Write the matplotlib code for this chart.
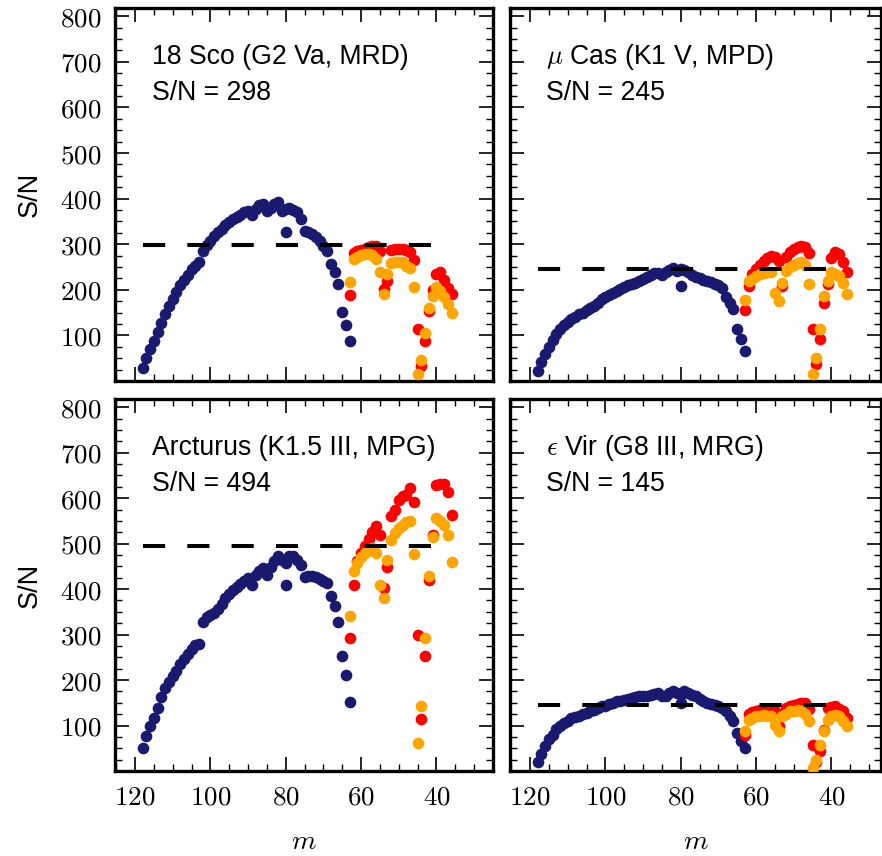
import numpy as np
import matplotlib
matplotlib.use("Agg")
import matplotlib.pyplot as plt
from matplotlib.ticker import MultipleLocator, FuncFormatter

plt.rcParams['font.family'] = ['Liberation Sans', 'DejaVu Sans']
plt.rcParams['mathtext.fontset'] = 'cm'

# echelle orders
m_blue = np.arange(118, 62, -1)     # 118 .. 63
m_ro = np.arange(63, 35, -1)        # 63 .. 36
m_out = [80]

stars = ["18 Sco (G2 Va, MRD)", r"$\mu$ Cas (K1 V, MPD)",
         "Arcturus (K1.5 III, MPG)", r"$\epsilon$ Vir (G8 III, MRG)"]
snr_target = [298, 245, 494, 145]

blue_sco = [29, 50, 70, 88, 107, 128, 148, 165, 180, 195, 210, 222, 232, 245,
            252, 260, 285, 298, 308, 317, 326, 333, 342, 349, 355, 360, 365, 370,
            372, 365, 378, 385, 388, 372, 380, 388, 393, 372, 378, 380, 375, 370,
            356, 330, 326, 322, 316, 306, 295, 285, 257, 240, 212, 152, 122, 88]
red_sco = [189, 280, 284, 287, 290, 293, 296, 297, 284, 202, 220, 288, 289, 290,
           290, 287, 283, 266, 114, 33, 88, 154, 200, 235, 239, 222, 205, 190]
orange_sco = [217, 268, 273, 277, 279, 279, 276, 268, 240, 191, 235, 258, 261, 261,
              260, 253, 247, 207, 15, 45, 106, 160, 187, 206, 198, 185, 168, 150]
out_sco = [327]

blue_cas = [22, 42, 60, 75, 90, 103, 113, 122, 130, 135, 140, 146, 150, 155,
            160, 164, 170, 180, 184, 189, 193, 198, 202, 206, 210, 213, 216, 220,
            224, 227, 232, 236, 236, 232, 238, 244, 248, 242, 246, 244, 240, 232,
            228, 225, 222, 220, 218, 213, 210, 205, 185, 172, 158, 114, 92, 66]
red_cas = [156, 209, 235, 245, 255, 264, 270, 275, 272, 264, 209, 272, 283, 290,
           294, 295, 294, 280, 114, 37, 92, 172, 213, 270, 283, 279, 262, 240]
orange_cas = [178, 220, 224, 230, 235, 237, 238, 238, 194, 176, 216, 242, 250, 254,
              259, 261, 255, 213, 15, 51, 114, 187, 220, 238, 235, 231, 216, 191]
out_cas = [209]

blue_arc = [50, 78, 100, 116, 138, 162, 182, 196, 208, 220, 235, 247, 258, 268,
            276, 280, 328, 338, 344, 348, 356, 367, 380, 390, 398, 405, 412, 418,
            424, 410, 430, 440, 446, 432, 448, 462, 472, 465, 458, 473, 472, 465,
            454, 427, 428, 428, 426, 422, 418, 414, 384, 362, 327, 252, 211, 151]
red_arc = [292, 410, 462, 480, 495, 510, 525, 538, 518, 402, 449, 560, 575, 595,
           605, 608, 623, 591, 300, 114, 252, 421, 520, 628, 632, 630, 613, 564]
orange_arc = [340, 439, 457, 470, 480, 487, 490, 479, 410, 380, 465, 509, 523, 535,
              542, 547, 549, 478, 62, 143, 292, 428, 515, 557, 549, 540, 518, 459]
out_arc = [410]

blue_vir = [20, 38, 55, 70, 80, 92, 100, 106, 111, 116, 119, 122, 125, 128,
            131, 134, 139, 142, 144, 148, 150, 153, 155, 157, 159, 160, 162, 164,
            165, 166, 168, 170, 171, 166, 164, 172, 177, 172, 170, 175, 172, 168,
            164, 158, 153, 150, 148, 146, 143, 139, 133, 122, 110, 83, 66, 50]
red_vir = [80, 125, 130, 133, 134, 134, 134, 134, 133, 100, 125, 138, 142, 146,
           148, 149, 149, 136, 57, 20, 43, 90, 138, 140, 142, 136, 131, 116]
orange_vir = [87, 112, 117, 121, 122, 123, 122, 120, 101, 87, 120, 126, 131, 133,
              134, 132, 125, 109, 6, 24, 57, 87, 112, 120, 123, 120, 110, 98]
out_vir = [149]

blues = [blue_sco, blue_cas, blue_arc, blue_vir]
reds = [red_sco, red_cas, red_arc, red_vir]
oranges = [orange_sco, orange_cas, orange_arc, orange_vir]
outs = [out_sco, out_cas, out_arc, out_vir]

fig = plt.figure(figsize=(8.82, 8.56), dpi=100)
W, H = 882, 856
boxes = [(115, 8, 378, 373), (510, 8, 371, 373),
         (115, 399, 378, 372), (510, 399, 371, 372)]
px_per_m = 378 / 100.3

ms = 8.4
for i, (x0, y0, w, h) in enumerate(boxes):
    ax = fig.add_axes([x0 / W, 1 - (y0 + h) / H, w / W, h / H])
    ax.plot(m_blue, blues[i], 'o', color='#191970', ms=ms, mew=0, zorder=2)
    ax.plot(m_out, outs[i], 'o', color='#191970', ms=ms, mew=0, zorder=2)
    ax.plot(m_ro, reds[i], 'o', color='#ff0000', ms=ms, mew=0, zorder=3)
    ax.plot(m_ro, oranges[i], 'o', color='#ffa500', ms=ms, mew=0, zorder=4)
    ax.hlines(snr_target[i], m_blue.max(), m_ro.min(), colors='k', lw=2.9,
              linestyles=(0, (5.5, 5.5)), zorder=5)

    ax.set_xlim(125.3, 125.3 - w / px_per_m)
    ax.set_ylim(0, 818)
    ax.set_xticks([120, 100, 80, 60, 40])
    ax.set_yticks(np.arange(100, 900, 100))
    ax.xaxis.set_minor_locator(MultipleLocator(5))
    ax.yaxis.set_minor_locator(MultipleLocator(25))
    fmt = FuncFormatter(lambda v, p: f'${v:.0f}$')
    ax.xaxis.set_major_formatter(fmt)
    ax.yaxis.set_major_formatter(fmt)
    ax.tick_params(which='both', direction='in', top=True, right=True,
                   labelsize=19.5)
    ax.tick_params(which='major', length=10, width=1.2, pad=10)
    ax.tick_params(which='minor', length=5, width=1.0)
    for s in ax.spines.values():
        s.set_linewidth(2.4)

    if i % 2 == 1:
        ax.tick_params(labelleft=False)
    else:
        ax.set_ylabel("S/N", fontsize=19.5, labelpad=12)
    if i < 2:
        ax.tick_params(labelbottom=False)
    else:
        ax.set_xlabel(r"$m$", fontsize=20, labelpad=13)

    ax.text(0.097, 0.869, stars[i], transform=ax.transAxes, fontsize=19.2,
            va='center', ha='left')
    ax.text(0.097, 0.772, f"S/N = {snr_target[i]}", transform=ax.transAxes,
            fontsize=19.2, va='center', ha='left')

fig.savefig("out.png", dpi=100)
